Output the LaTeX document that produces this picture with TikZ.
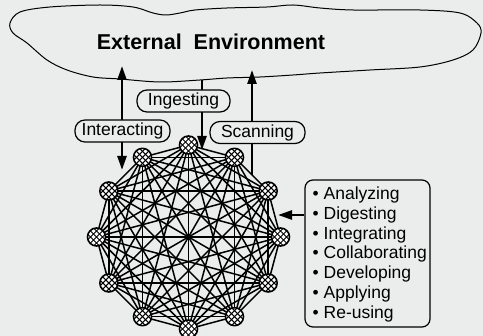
\documentclass[tikz,border=0pt]{standalone}
\usepackage{fontspec}
\setmainfont{Liberation Sans}
\usetikzlibrary{arrows.meta,calc}
\pgfdeclarelayer{back}
\pgfdeclarelayer{edges}
\pgfsetlayers{back,edges,main}
\definecolor{bgc}{RGB}{234,237,235}
\begin{document}
\begin{tikzpicture}[x=1pt,y=-1pt,
  netnode/.style={circle,draw,line width=1.6pt,fill=white,minimum size=18pt,inner sep=0pt,
    path picture={
      \foreach \ax/\ay/\bx/\by in {-13/-7/7/13,-10/-10/10/10,-7/-13/13/7,-13/7/7/-13,-10/10/10/-10,-7/13/13/-7}{
        \draw[line width=1pt] ([shift={(\ax pt,\ay pt)}]path picture bounding box.center) -- ([shift={(\bx pt,\by pt)}]path picture bounding box.center);
      }}},
  edge/.style={line width=1.5pt},
  lab/.style={draw,line width=1.2pt,fill=bgc,rounded corners=10pt,minimum height=22pt,inner sep=0pt,font=\fontsize{17.5}{20}\selectfont},
  listtext/.style={anchor=base west,inner sep=0pt,font=\fontsize{17.5}{20}\selectfont},
  tipA/.tip={Triangle[length=14pt,width=9pt]},
  arr/.style={line width=2.5pt,-tipA},
  dbl/.style={line width=2.5pt,tipA-tipA}]
\useasboundingbox (0,0) rectangle (483,336);
\begin{pgfonlayer}{back}
\fill[bgc] (0,0) rectangle (483,336);
\end{pgfonlayer}
% cloud
\draw[line width=1pt] plot[smooth cycle,tension=0.55] coordinates {
 (10,23) (20,12) (50,7) (100,5) (133,7) (153,13) (166,15) (180,13) (195,10) (227,8)
 (267,7) (293,5) (320,8) (353,10) (420,10) (460,13) (477,23) (481,33) (473,50)
 (453,60) (420,67) (370,70) (320,73) (293,75) (260,77) (227,78) (200,80) (160,82)
 (120,79) (93,77) (67,70) (47,60) (27,43) (13,33)};
\node[font=\bfseries\fontsize{21.5}{24}\selectfont,inner sep=0pt] (env) at (211,41.5) {External\ \ Environment};
% network nodes
\foreach \k in {0,...,11}{
  \node[netnode] (n\k) at ($(188.5,237)+(\k*30:92)$) {};
}
\begin{pgfonlayer}{edges}
\foreach \i in {0,...,10}{
  \pgfmathtruncatemacro\s{\i+1}
  \foreach \j in {\s,...,11}{
    \draw[edge] (n\i.center) -- (n\j.center);
  }
}
\end{pgfonlayer}
% arrows
\coordinate (iaTop) at (122,66);
\coordinate (iaBot) at (122,170);
\coordinate (igTop) at (202,80);
\coordinate (igBot) at (202,150);
\coordinate (scTop) at (252,70);
\coordinate (scBot) at (252,175);
\draw[dbl] (iaBot) -- (iaTop);
\draw[arr] (igTop) -- (igBot);
\draw[arr] (scBot) -- (scTop);
% labels
\node[lab,minimum width=95pt] (interacting) at (122.5,131) {Interacting};
\node[lab,minimum width=93pt] (ingesting) at (183.5,101) {Ingesting};
\node[lab,minimum width=95pt] (scanning) at (257.5,132.5) {Scanning};
% list
\node[draw,line width=1.2pt,rounded corners=8pt,minimum width=125pt,minimum height=147pt,inner sep=0pt] (list) at (367.5,253.5) {};
\coordinate (listTip) at (278,215);
\draw[arr] (list.west |- listTip) -- (listTip);
\node[listtext] (l1) at (312.5,199.5) {• Analyzing};
\node[listtext] (l2) at (312.5,219.3) {• Digesting};
\node[listtext] (l3) at (312.5,239.1) {• Integrating};
\node[listtext] (l4) at (312.5,258.9) {• Collaborating};
\node[listtext] (l5) at (312.5,278.7) {• Developing};
\node[listtext] (l6) at (312.5,298.5) {• Applying};
\node[listtext] (l7) at (312.5,318.3) {• Re-using};
\end{tikzpicture}
\end{document}
